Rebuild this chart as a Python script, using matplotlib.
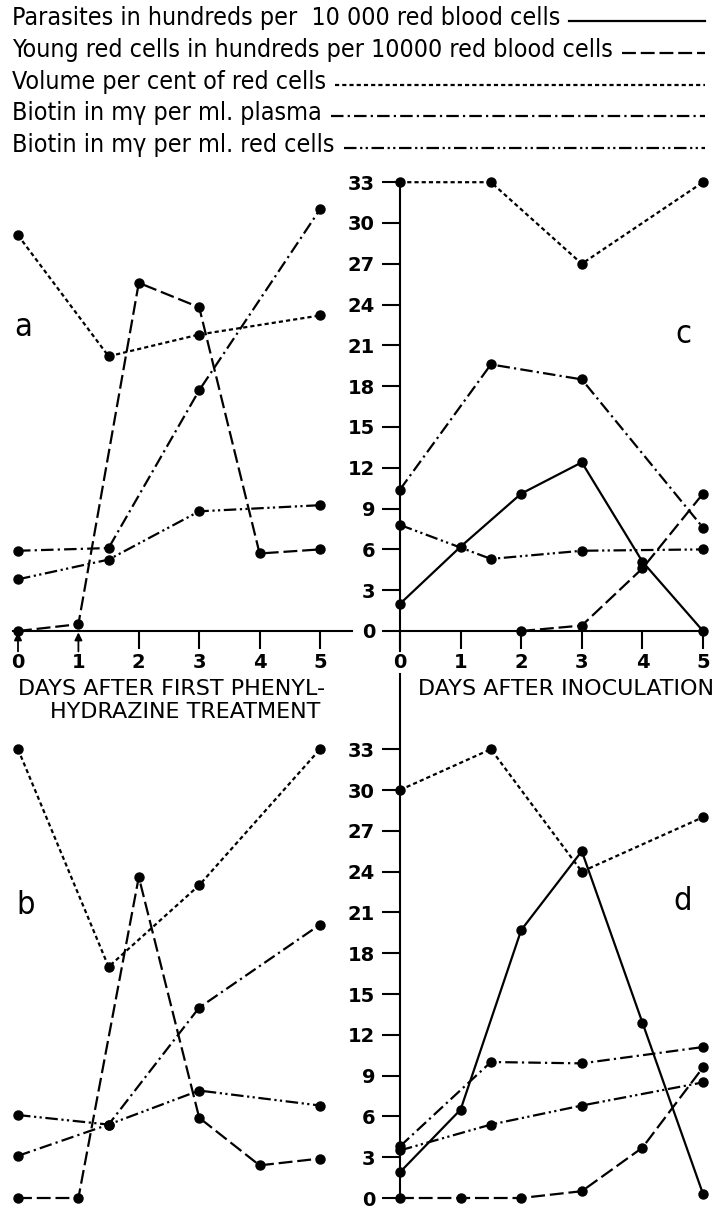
import matplotlib
matplotlib.use('Agg')
import matplotlib.pyplot as plt
from matplotlib.lines import Line2D
from matplotlib import font_manager as fm

plt.rcParams['lines.scale_dashes'] = False
plt.rcParams['font.family'] = ['DejaVu Sans']

# days of sampling and values, one list per curve
a_vol_days = [0, 1.5, 3, 5]
a_vol = [29.1, 20.2, 21.8, 23.2]
a_young_days = [0, 1, 2, 3, 4, 5]
a_young = [0, 0.5, 25.6, 23.8, 5.7, 6.0]
a_plasma_days = [0, 1.5, 3, 5]
a_plasma = [5.9, 6.1, 17.7, 31.0]
a_red_days = [0, 1.5, 3, 5]
a_red = [3.8, 5.25, 8.8, 9.25]

b_vol_days = [0, 1.5, 3, 5]
b_vol = [33, 17, 23, 33]
b_young_days = [0, 1, 2, 3, 4, 5]
b_young = [0, 0, 23.6, 5.9, 2.4, 2.9]
b_plasma_days = [0, 1.5, 3, 5]
b_plasma = [3.1, 5.4, 14.0, 20.1]
b_red_days = [0, 1.5, 3, 5]
b_red = [6.1, 5.4, 7.9, 6.8]

c_vol_days = [0, 1.5, 3, 5]
c_vol = [33, 33, 27, 33]
c_par_days = [0, 1, 2, 3, 4, 5]
c_par = [2.0, 6.2, 10.1, 12.4, 5.1, 0]
c_young_days = [2, 3, 4, 5]
c_young = [0, 0.4, 4.6, 10.1]
c_plasma_days = [0, 1.5, 3, 5]
c_plasma = [10.4, 19.6, 18.5, 7.6]
c_red_days = [0, 1.5, 3, 5]
c_red = [7.8, 5.3, 5.9, 6.0]

d_vol_days = [0, 1.5, 3, 5]
d_vol = [30, 33, 24, 28]
d_par_days = [0, 1, 2, 3, 4, 5]
d_par = [1.9, 6.5, 19.7, 25.5, 12.9, 0.3]
d_young_days = [0, 1, 2, 3, 4, 5]
d_young = [0, 0, 0, 0.5, 3.7, 9.6]
d_plasma_days = [0, 1.5, 3, 5]
d_plasma = [3.8, 10.0, 9.9, 11.1]
d_red_days = [0, 1.5, 3, 5]
d_red = [3.5, 5.4, 6.8, 8.5]

day_ticks = [0, 1, 2, 3, 4, 5]
value_ticks = list(range(0, 34, 3))

legend_labels = [
    "Parasites in hundreds per  10 000 red blood cells",
    "Young red cells in hundreds per 10000 red blood cells",
    "Volume per cent of red cells",
    "Biotin in m\u03b3 per ml. plasma",
    "Biotin in m\u03b3 per ml. red cells",
]

# line styles (dash patterns in points)
styles = {
    'par': '-',
    'young': (0, (10, 3.5)),
    'vol': (0, (3.0, 2.2)),
    'plasma': (0, (9, 3, 1.6, 3)),
    'red': (0, (9, 2.6, 1.6, 2.4, 1.6, 2.6)),
}
style_order = ['par', 'young', 'vol', 'plasma', 'red']


def pick_narrow_font():
    # first condensed face that is really installed, else a plain sans
    for fam, stretch in [('Liberation Sans Narrow', 'normal'),
                         ('DejaVu Sans', 'condensed'),
                         ('Roboto Condensed', 'normal'),
                         ('Open Sans Condensed', 'normal'),
                         ('Noto Sans', 'condensed')]:
        try:
            path = fm.findfont(fm.FontProperties(family=fam, stretch=stretch),
                               fallback_to_default=False)
        except ValueError:
            continue
        if 'narrow' in path.lower() or 'condensed' in path.lower():
            return fam, stretch
    return 'Liberation Sans', 'normal'


narrow_family, narrow_stretch = pick_narrow_font()
narrow = dict(family=[narrow_family, 'DejaVu Sans'], stretch=narrow_stretch)

W, H = 720, 1208
fig = plt.figure(figsize=(W / 100, H / 100), dpi=100)
fig.patch.set_facecolor('white')
renderer = fig.canvas.get_renderer()

# size the key text so the first line ends where the sample starts
probe = fig.text(0, 0, legend_labels[0], fontsize=18, **narrow)
probe_w = probe.get_window_extent(renderer).width
probe.remove()
key_size = min(20.0, 18 * 549 / probe_w)


def add_panel(x0, y0, sx, sy, xlim, ylim):
    # x0, y0 = pixel position of day 0 / value 0, sx, sy = pixels per unit
    left = x0 + sx * xlim[0]
    right = x0 + sx * xlim[1]
    top = y0 - sy * ylim[1]
    bottom = y0 - sy * ylim[0]
    ax = fig.add_axes([left / W, 1 - bottom / H, (right - left) / W, (bottom - top) / H])
    ax.set_xlim(xlim)
    ax.set_ylim(ylim)
    ax.patch.set_visible(False)
    for s in ax.spines.values():
        s.set_visible(False)
    ax.set_xticks([])
    ax.set_yticks([])
    return ax


def draw_curves(ax, series):
    for key, days, vals in series:
        ax.plot(days, vals, color='black', lw=1.6, linestyle=styles[key],
                marker='o', ms=6.5, clip_on=False, dash_capstyle='butt')


ax_a = add_panel(18, 631, 60.4, 13.6, (-0.3, 5.6), (-3, 40))
ax_c = add_panel(400, 631, 60.6, 13.6, (-0.6, 5.3), (-3, 40))
ax_b = add_panel(18, 1198, 60.4, 13.6, (-0.3, 5.6), (-0.5, 39))
ax_d = add_panel(400, 1198, 60.6, 13.6, (-0.6, 5.3), (-0.5, 39))

draw_curves(ax_a, [('vol', a_vol_days, a_vol), ('young', a_young_days, a_young),
                   ('plasma', a_plasma_days, a_plasma), ('red', a_red_days, a_red)])
draw_curves(ax_b, [('vol', b_vol_days, b_vol), ('young', b_young_days, b_young),
                   ('plasma', b_plasma_days, b_plasma), ('red', b_red_days, b_red)])
draw_curves(ax_c, [('vol', c_vol_days, c_vol), ('par', c_par_days, c_par),
                   ('young', c_young_days, c_young), ('plasma', c_plasma_days, c_plasma),
                   ('red', c_red_days, c_red)])
draw_curves(ax_d, [('vol', d_vol_days, d_vol), ('par', d_par_days, d_par),
                   ('young', d_young_days, d_young), ('plasma', d_plasma_days, d_plasma),
                   ('red', d_red_days, d_red)])

tick_font = dict(fontsize=14, fontweight='bold')

# day axes of the upper panels
for ax, lo, hi in [(ax_a, -0.08, 5.53), (ax_c, 0, 5.05)]:
    ax.spines['bottom'].set_visible(True)
    ax.spines['bottom'].set_position(('data', 0))
    ax.spines['bottom'].set_bounds(lo, hi)
    ax.spines['bottom'].set_linewidth(1.5)
    ax.set_xticks(day_ticks)
    ax.set_xticklabels([str(d) for d in day_ticks], **tick_font)
    ax.tick_params(axis='x', direction='out', length=13, width=1.5, pad=3)

# treatment days marked with arrows instead of ticks
for t in ax_a.xaxis.get_major_ticks()[:2]:
    t.tick1line.set_visible(False)
for d in [0, 1]:
    ax_a.annotate('', xy=(d, -0.1), xytext=(d, -1.5),
                  arrowprops=dict(arrowstyle='-|>', color='black', lw=1.3,
                                  mutation_scale=11, shrinkA=0, shrinkB=0))

# value axes on the right panels
for ax, lo, hi in [(ax_c, -1.5, 33), (ax_d, 0, 38.5)]:
    ax.spines['left'].set_visible(True)
    ax.spines['left'].set_position(('data', 0))
    ax.spines['left'].set_bounds(lo, hi)
    ax.spines['left'].set_linewidth(1.5)
    ax.set_yticks(value_ticks)
    ax.set_yticklabels([str(v) for v in value_ticks], **tick_font)
    ax.tick_params(axis='y', direction='out', length=13, width=1.5, pad=5)

# panel letters
for ax, x, y, s in [(ax_a, 0.08, 22.3, 'a'), (ax_c, 4.67, 21.8, 'c'),
                    (ax_b, 0.12, 21.5, 'b'), (ax_d, 4.67, 21.8, 'd')]:
    ax.text(x, y, s, fontsize=key_size * 1.3, ha='center', va='center', **narrow)

fig.text(172 / W, 1 - 689 / H, "DAYS AFTER FIRST PHENYL-", fontsize=16,
         ha='center', va='center')
fig.text(185 / W, 1 - 712 / H, "HYDRAZINE TREATMENT", fontsize=16,
         ha='center', va='center')
fig.text(566 / W, 1 - 689 / H, "DAYS AFTER INOCULATION", fontsize=16,
         ha='center', va='center')

# key at the top: label followed by a sample of the line style
for i, (label, key) in enumerate(zip(legend_labels, style_order)):
    yc = 1 - (18 + 31.8 * i) / H
    t = fig.text(12 / W, yc, label, fontsize=key_size, va='center', **narrow)
    end = t.get_window_extent(renderer).x1
    fig.add_artist(Line2D([(end + 9) / W, 705 / W], [yc - 3 / H, yc - 3 / H],
                          transform=fig.transFigure, color='black', lw=1.6,
                          linestyle=styles[key], dash_capstyle='butt'))

fig.savefig('out.png', dpi=100, facecolor='white')
